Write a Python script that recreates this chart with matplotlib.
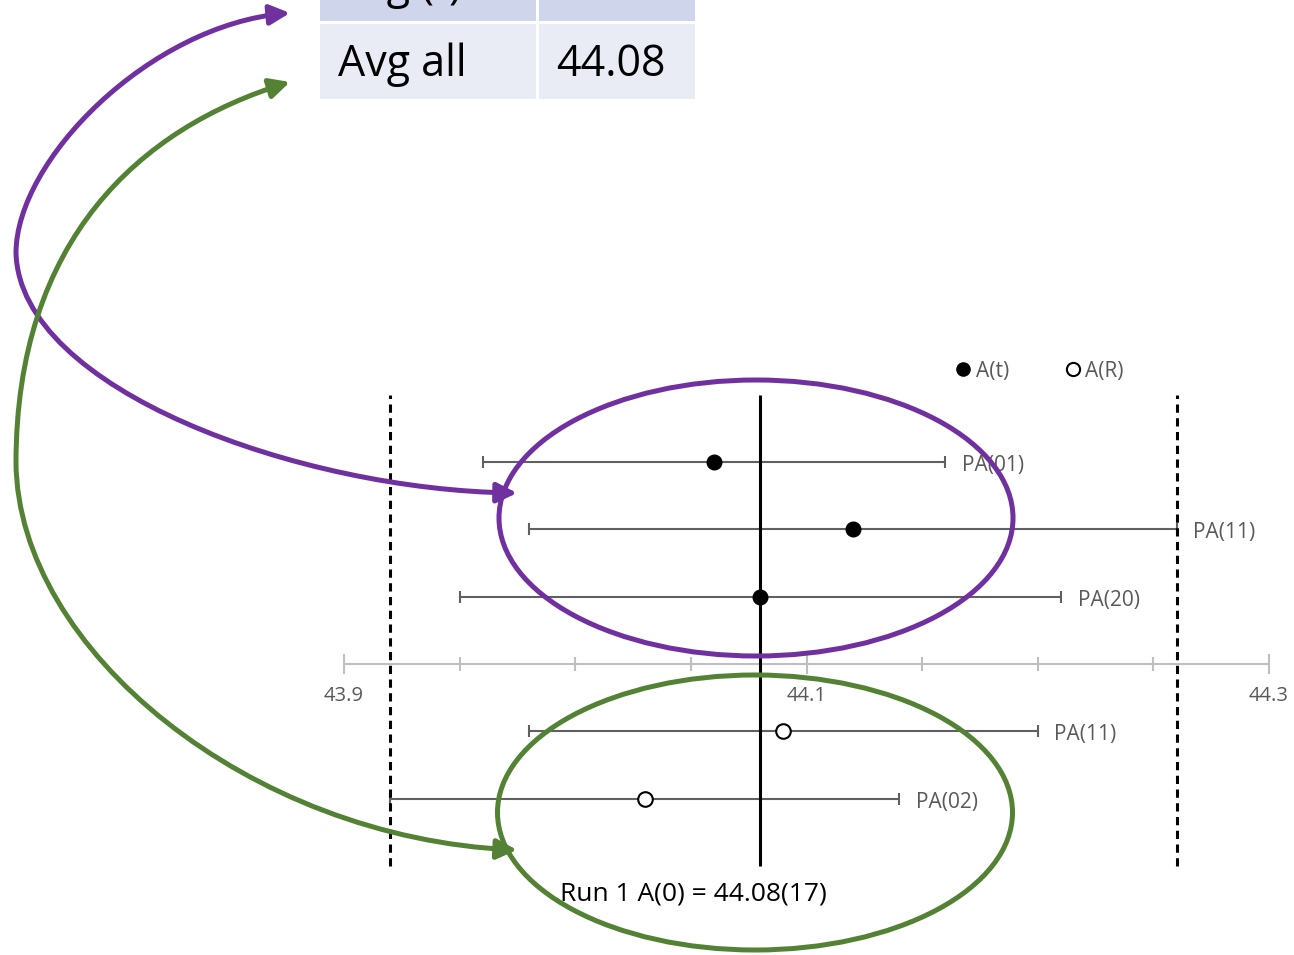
import numpy as np
import matplotlib
matplotlib.use("Agg")
import matplotlib.pyplot as plt
from matplotlib.patches import Ellipse, Rectangle, FancyArrowPatch
from matplotlib.path import Path
from matplotlib.lines import Line2D
from matplotlib.ticker import FixedLocator

plt.rcParams['font.family'] = ['Open Sans', 'DejaVu Sans']

# A(t) measurements
t_labels = ["PA(01)", "PA(11)", "PA(20)"]
t_values = [44.06, 44.12, 44.08]
t_errors = [0.10, 0.14, 0.13]
t_rows = [3, 2, 1]

# A(R) measurements
r_labels = ["PA(11)", "PA(02)"]
r_values = [44.09, 44.03]
r_errors = [0.11, 0.11]
r_rows = [-1, -2]

# Run 1 result and its band
a0_value = 44.08
a0_lower = 43.92
a0_upper = 44.26
a0_text = "Run 1 A(0) = 44.08(17)"

x_ticks = [43.9, 44.1, 44.3]
x_tick_labels = ["43.9", "44.1", "44.3"]
x_minor_ticks = [43.95, 44.0, 44.05, 44.15, 44.2, 44.25]

# summary table
table_names = ["Avg (t)", "Avg all"]
table_values = ["", "44.08"]

GREY_TXT = '#595959'
GREY_AX = '#BFBFBF'
PURPLE = '#7030A0'
GREEN = '#548235'

W, H = 1294, 955
fig = plt.figure(figsize=(W / 100, H / 100), dpi=100)

# ---- main chart axes: full canvas, axis line at y = 0
ax = fig.add_axes([0, 0, 1, 1])
ax.patch.set_alpha(0)
px_per_unit = 2312.5
x_origin_px = 344
row_px = 67.3
axis_px = 664
ax.set_xlim(x_ticks[0] - x_origin_px / px_per_unit,
            x_ticks[0] + (W - x_origin_px) / px_per_unit)
ax.set_ylim(-(H - axis_px) / row_px, axis_px / row_px)

for side in ['top', 'left', 'right']:
    ax.spines[side].set_visible(False)
ax.spines['bottom'].set_position(('data', 0))
ax.spines['bottom'].set_bounds(x_ticks[0], x_ticks[-1])
ax.spines['bottom'].set_color(GREY_AX)
ax.spines['bottom'].set_linewidth(1.5)
ax.set_xticks(x_ticks)
ax.set_xticklabels(x_tick_labels)
ax.xaxis.set_minor_locator(FixedLocator(x_minor_ticks))
ax.tick_params(axis='x', which='major', direction='inout', length=14, width=1.5,
               color=GREY_AX, labelcolor=GREY_TXT, labelsize=14.5, pad=9)
ax.tick_params(axis='x', which='minor', direction='inout', length=10, width=1.5,
               color=GREY_AX)
ax.yaxis.set_visible(False)

line_bottom, line_top = -3, 4
err_kw = dict(fmt='none', ecolor='#606060', elinewidth=1.5, capsize=4.5,
              capthick=1.5, zorder=2)
ax.errorbar(t_values, t_rows, xerr=t_errors, **err_kw)
ax.errorbar(r_values, r_rows, xerr=r_errors, **err_kw)
ax.vlines(a0_value, line_bottom, line_top, colors='black', lw=2.2, zorder=3)
ax.vlines([a0_lower, a0_upper], line_bottom, line_top, colors='black', lw=2.2,
          linestyles=(0, (2.7, 1.8)), zorder=3)
ax.plot(t_values, t_rows, 'o', ms=10.5, color='black', zorder=4)
ax.plot(r_values, r_rows, 'o', ms=10.5, mfc='white', mec='black', mew=1.5, zorder=4)

for lab, v, e, y in zip(t_labels + r_labels, t_values + r_values,
                        t_errors + r_errors, t_rows + r_rows):
    ax.annotate(lab, xy=(v + e, y), xytext=(12, -2.5), textcoords='offset points',
                ha='left', va='center', fontsize=15, color=GREY_TXT)

handles = [Line2D([], [], ls='none', marker='o', ms=9.5, color='black', label='A(t)'),
           Line2D([], [], ls='none', marker='o', ms=9.5, mfc='white', mec='black',
                  mew=1.5, label='A(R)')]
leg = ax.legend(handles=handles, loc='center left', bbox_to_anchor=(957 / W, 1 - 371 / H),
                ncol=2, frameon=False, handlelength=0.6, handletextpad=0.3,
                columnspacing=2.75, borderpad=0, borderaxespad=0, prop={'size': 15})
for txt in leg.get_texts():
    txt.set_color(GREY_TXT)

# ---- overlay in pixel coordinates: table, highlight ellipses, arrows
ov = fig.add_axes([0, 0, 1, 1], zorder=5)
ov.set_xlim(0, W)
ov.set_ylim(H, 0)
ov.axis('off')
ov.patch.set_alpha(0)

row_colors = ['#CFD5EA', '#E9EBF5']
row_spans = [(-60, 21), (24, 99)]
col_spans = [(320, 536), (539, 695)]
for (y0, y1), fc, name, val in zip(row_spans, row_colors, table_names, table_values):
    for (x0, x1) in col_spans:
        ov.add_patch(Rectangle((x0, y0), x1 - x0, y1 - y0, fc=fc, ec='none'))
    base = y1 - 23
    ov.text(col_spans[0][0] + 18, base, name, va='baseline', ha='left',
            fontsize=31, color='black')
    if val:
        ov.text(col_spans[1][0] + 17, base, val, va='baseline', ha='left',
                fontsize=31, color='black')

ov.add_patch(Ellipse((756, 518), 514, 276, fill=False, ec=PURPLE, lw=3.6))
ov.add_patch(Ellipse((755, 812.5), 515, 275, fill=False, ec=GREEN, lw=3.6))


def bezier_path(nodes):
    """Start point followed by (control, control, end) triples of cubic segments."""
    codes = [Path.MOVETO] + [Path.CURVE4] * (len(nodes) - 1)
    return Path(np.asarray(nodes, float), codes)


purple_nodes = [(290, 13), (150, 25), (16, 160), (16, 253),
                (20, 390), (300, 490), (517, 493)]
green_nodes = [(290, 82), (140, 128), (16, 240), (16, 463),
               (18, 650), (250, 838), (517, 850)]
for nodes, col in [(purple_nodes, PURPLE), (green_nodes, GREEN)]:
    ov.add_patch(FancyArrowPatch(path=bezier_path(nodes),
                                 arrowstyle='<|-|>,head_length=1.2,head_width=0.6',
                                 mutation_scale=10, color=col, lw=3.6))

ov.text(693, 894, a0_text, ha='center', va='center', fontsize=19, color='black')

fig.savefig('out.png', dpi=100)
